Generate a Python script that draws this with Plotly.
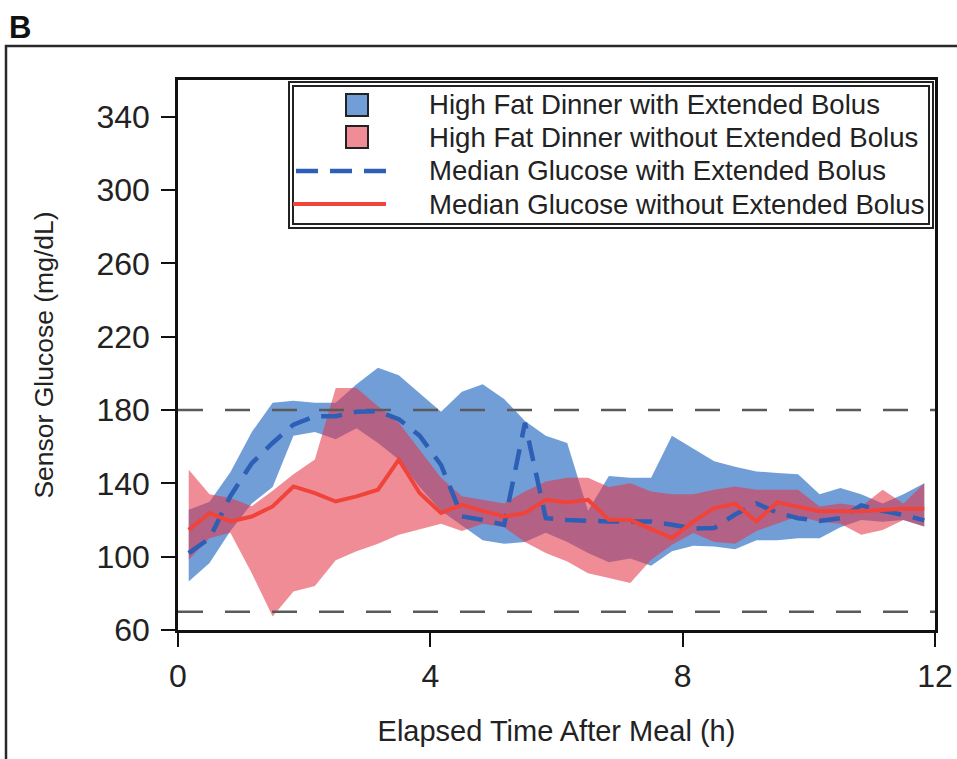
import plotly.graph_objects as go

# Hours after the meal at which sensor glucose was summarised
hours = [0.17, 0.5, 0.83, 1.17, 1.5, 1.83, 2.17, 2.5, 2.83, 3.17, 3.5, 3.83,
         4.17, 4.5, 4.83, 5.17, 5.5, 5.83, 6.17, 6.5, 6.83, 7.17, 7.5, 7.83,
         8.17, 8.5, 8.83, 9.17, 9.5, 9.83, 10.17, 10.5, 10.83, 11.17, 11.5, 11.83]

# With extended bolus: interquartile band and median (mg/dL)
ext_upper = [125.6, 130, 146, 168, 184, 185, 184, 184, 194, 203, 199, 189,
             179, 190, 194, 186, 174, 166, 162, 125, 144, 143, 143, 166,
             159, 152, 149, 146.5, 145.6, 145, 134, 137.5, 134, 129, 134, 140]
ext_lower = [86.5, 96.5, 114, 129, 138, 166, 168, 164, 170, 162, 153, 138,
             125, 117, 109, 107, 108, 113, 108, 102, 97, 99, 95, 103,
             106, 105.6, 104, 109, 109, 110, 110, 116, 120, 119, 120, 116.5]
ext_median = [101.9, 110, 133, 151, 162, 172, 176.6, 176.6, 179, 179.3, 175, 166,
              150, 122, 120, 117.4, 173, 121, 120, 119.5, 119.2, 119.2, 119.2, 117.4,
              115.4, 115.6, 123, 129, 124, 121, 119.5, 121, 128, 125, 122.8, 119.8]

# Without extended bolus: interquartile band and median (mg/dL)
std_upper = [147.4, 134, 132, 127.5, 136, 145, 153, 192, 192, 182, 173, 158,
             143, 133, 131, 129, 135.6, 141, 143, 143, 138, 140, 135.6, 134,
             134, 136.5, 138.3, 136.5, 136.5, 136.5, 127.4, 129, 127.4, 136.5, 129, 140]
std_lower = [98.3, 110, 113, 91, 67.4, 81, 84, 98, 103, 107, 112, 115,
             118, 114, 118, 116, 108, 102, 97.4, 91, 88.3, 85.6, 98.3, 106.5,
             112.9, 108, 107, 114, 118, 122, 119, 118, 112, 114.6, 120, 116.5]
std_median = [114.6, 123.8, 119.2, 121.9, 127.4, 138.3, 134.7, 130.1, 132.9, 136.5, 152.9, 134.7,
              123.8, 128.3, 125, 121.9, 123.8, 131, 129.6, 131, 120.1, 120.1, 115, 110.1,
              119.2, 126.5, 128.9, 119.2, 129.6, 127, 124.8, 124.8, 124.8, 125.5, 126.1, 126.1]

# Target glucose range limits
target_limits = [70, 180]

x_ticks = [0, 4, 8, 12]
y_ticks = [60, 100, 140, 180, 220, 260, 300, 340]

legend_labels = ["High Fat Dinner with Extended Bolus",
                 "High Fat Dinner without Extended Bolus",
                 "Median Glucose with Extended Bolus",
                 "Median Glucose without Extended Bolus"]

FONT = "Liberation Sans, Arial, Helvetica, sans-serif"
BLUE_FILL = "rgba(60,120,200,0.72)"
PINK_FILL = "rgba(229,53,71,0.57)"
BLUE_LINE = "#2c5fb5"
RED_LINE = "#f0433a"
GREY_DASH = "#5a5a5a"

W, H = 957, 759
L, R, T, B = 178, 22, 80, 129
PW, PH = W - L - R, H - T - B


def px(x, y):
    """Convert page pixel position to paper coordinates."""
    return (x - L) / PW, (H - B - y) / PH


fig = go.Figure()

# Interquartile bands
fig.add_trace(go.Scatter(
    x=hours + hours[::-1], y=ext_upper + ext_lower[::-1],
    fill="toself", fillcolor=BLUE_FILL, line=dict(width=0),
    mode="lines", showlegend=False, hoverinfo="skip"))
fig.add_trace(go.Scatter(
    x=hours + hours[::-1], y=std_upper + std_lower[::-1],
    fill="toself", fillcolor=PINK_FILL, line=dict(width=0),
    mode="lines", showlegend=False, hoverinfo="skip"))

# Target range limits
for lim in target_limits:
    fig.add_trace(go.Scatter(
        x=[x_ticks[0], x_ticks[-1]], y=[lim, lim], mode="lines",
        line=dict(color=GREY_DASH, width=2.5, dash="25px,22px"),
        showlegend=False, hoverinfo="skip"))

# Medians
fig.add_trace(go.Scatter(
    x=hours, y=ext_median, mode="lines",
    line=dict(color=BLUE_LINE, width=4.5, dash="21px,12px"),
    showlegend=False))
fig.add_trace(go.Scatter(
    x=hours, y=std_median, mode="lines",
    line=dict(color=RED_LINE, width=4),
    showlegend=False))

shapes = []
annotations = []

# Outer panel frame
x0, y0 = px(6, 759)
x1, y1 = px(6, 46)
x2, _ = px(970, 46)
shapes.append(dict(type="path", xref="paper", yref="paper",
                   path=f"M {x0},{y0} L {x1},{y1} L {x2},{y1}",
                   line=dict(color="#2a2a2a", width=2.5)))

# Legend frame (double line)
for (a, b, c, d) in [(289, 82, 933, 228), (293, 86, 929, 224)]:
    ax, ay = px(a, b)
    cx, cy = px(c, d)
    shapes.append(dict(type="rect", xref="paper", yref="paper",
                       x0=ax, y0=cy, x1=cx, y1=ay,
                       line=dict(color="#222", width=2), fillcolor="rgba(0,0,0,0)"))

row_y = [105, 137, 171, 204]
# Legend patches
for ry, fc in zip(row_y[:2], [BLUE_FILL, PINK_FILL]):
    ax, ay = px(346, ry - 11)
    cx, cy = px(368, ry + 11)
    shapes.append(dict(type="rect", xref="paper", yref="paper",
                       x0=ax, y0=cy, x1=cx, y1=ay,
                       line=dict(color="#222", width=2), fillcolor=fc))
# Legend line samples
ax, ay = px(296, row_y[2])
cx, _ = px(386, row_y[2])
shapes.append(dict(type="line", xref="paper", yref="paper", x0=ax, y0=ay, x1=cx, y1=ay,
                   line=dict(color=BLUE_LINE, width=4.5, dash="22px,12px")))
ax, ay = px(293, row_y[3])
cx, _ = px(386, row_y[3])
shapes.append(dict(type="line", xref="paper", yref="paper", x0=ax, y0=ay, x1=cx, y1=ay,
                   line=dict(color=RED_LINE, width=4)))

for ry, lab in zip(row_y, legend_labels):
    ax, ay = px(427, ry)
    annotations.append(dict(xref="paper", yref="paper", x=ax, y=ay, text=lab,
                            showarrow=False, xanchor="left", yanchor="middle",
                            font=dict(family=FONT, size=27.6, color="#222")))

# Panel letter
ax, ay = px(7, 8)
annotations.append(dict(xref="paper", yref="paper", x=ax, y=ay, text="<b>B</b>",
                        showarrow=False, xanchor="left", yanchor="top",
                        font=dict(family=FONT, size=31, color="#111")))

fig.update_layout(
    width=W, height=H,
    margin=dict(l=L, r=R, t=T, b=B, pad=0, autoexpand=False),
    paper_bgcolor="white", plot_bgcolor="white",
    font=dict(family=FONT, size=28, color="#222"),
    shapes=shapes, annotations=annotations,
    showlegend=False,
)
fig.update_xaxes(range=[0, 12], tickvals=x_ticks, ticks="outside", ticklen=14, tickwidth=2,
                 tickcolor="#111", linecolor="#111", linewidth=2.5, mirror=True,
                 showgrid=False, zeroline=False, tickfont=dict(size=32),
                 ticklabelstandoff=2, automargin=False,
                 title=dict(text="Elapsed Time After Meal (h)", font=dict(size=29), standoff=28))
fig.update_yaxes(range=[60, 360], tickvals=y_ticks, ticks="outside", ticklen=14, tickwidth=2,
                 tickcolor="#111", linecolor="#111", linewidth=2.5, mirror=True,
                 showgrid=False, zeroline=False, tickfont=dict(size=32),
                 ticklabelstandoff=5, automargin=False,
                 title=dict(text="Sensor Glucose (mg/dL)", font=dict(size=26.5), standoff=36))

fig.write_html("out.html")
